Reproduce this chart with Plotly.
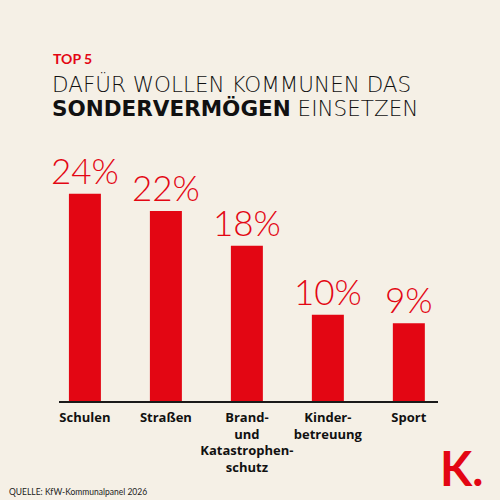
import plotly.graph_objects as go

categories = ['Schulen', 'Straßen', 'Brand-<br>und<br>Katastrophen-<br>schutz', 'Kinder-<br>betreuung', 'Sport']
values = [24, 22, 18, 10, 9]

RED = '#E30613'
BG = '#F5F0E6'

fig = go.Figure()
fig.add_trace(go.Bar(
    x=list(range(len(categories))), y=values,
    marker=dict(color=RED, line=dict(width=0)),
    width=0.395,
    text=[f'{v}%' for v in values],
    textposition='outside',
    constraintext='none',
    textfont=dict(family='Lato', size=35, color=RED, weight=300),
    cliponaxis=False,
    hoverinfo='skip',
))

fig.update_layout(
    width=500, height=500,
    paper_bgcolor=BG, plot_bgcolor=BG,
    margin=dict(l=59, r=62, t=150, b=99, autoexpand=False),
    showlegend=False,
)
fig.update_xaxes(
    range=[-0.32, 4.36], tickmode='array',
    tickvals=list(range(len(categories))), ticktext=[f'<b>{c}</b>' for c in categories],
    tickfont=dict(family='Open Sans', size=13, color='#111111'),
    tickangle=0, automargin=False,
    ticklabelstandoff=3,
    showline=True, linecolor='#1a1a1a', linewidth=2,
    showgrid=False, ticks='', zeroline=False,
)
fig.update_yaxes(range=[0, 29.08], visible=False, showgrid=False, zeroline=False)

fig.add_annotation(text='<b>TOP 5</b>', x=51, y=58, showarrow=False,
                   xanchor='left', yanchor='middle',
                   font=dict(family='Lato', size=14, color=RED, weight=900))

anns = [
    dict(text='DAFÜR WOLLEN KOMMUNEN DAS', y=84),
    dict(text='<b style="font-weight:900">SONDERVERMÖGEN</b> EINSETZEN', y=109),
]
for a in anns:
    fig.add_annotation(text=a['text'], x=50, y=a['y'], showarrow=False,
                       xanchor='left', yanchor='middle',
                       font=dict(family='DejaVu Sans', size=21.5, color='#111111', weight=200))

fig.add_annotation(text='QUELLE: KfW-Kommunalpanel 2026', x=7, y=492, showarrow=False,
                   xanchor='left', yanchor='middle',
                   font=dict(family='Lato', size=8.5, color='#222222'))
fig.add_annotation(text='<b>K.</b>', x=485, y=468, showarrow=False,
                   xanchor='right', yanchor='middle',
                   font=dict(family='Lato', size=47, color=RED, weight=900))

# pixel positions -> paper coordinates
for ann in fig.layout.annotations:
    ann.xref = 'paper'
    ann.yref = 'paper'
    px, py = ann.x, ann.y
    ann.x = (px - 59) / (500 - 59 - 62)
    ann.y = (500 - 99 - py) / (500 - 150 - 99)

fig.write_html('out.html', config={'displayModeBar': False},
               post_script="document.body.style.margin='0';")
